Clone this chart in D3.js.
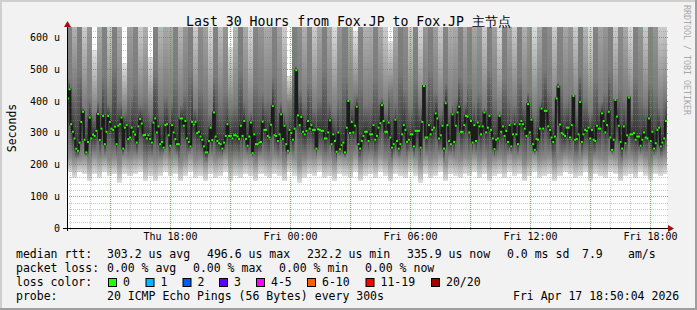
<!DOCTYPE html>
<html>
<head>
<meta charset="utf-8">
<script src="https://cdn.jsdelivr.net/npm/d3@7"></script>
<style>
body { margin: 0; background: #fff; }
text { font-family: "DejaVu Sans Mono", monospace; fill: #000; }
</style>
</head>
<body>
<div id="chart"></div>
<script>
// median rtt per 300s step, in microseconds
var median = [
  408,437,327,303,282,250,243,269,334,366,278,238,271,348,282,294,290,306,359,277,
  313,353,264,303,353,334,313,309,319,264,322,327,348,250,316,324,280,285,316,303,
  294,269,320,343,329,292,293,282,292,280,269,332,345,301,320,264,271,253,324,
  327,292,259,324,301,280,264,264,345,345,322,337,282,271,257,334,326,334,299,303,
  288,278,257,238,238,274,316,277,364,288,274,267,264,250,269,290,327,290,290,282,
  292,292,288,280,322,290,337,280,259,288,332,236,295,264,264,269,271,335,309,
  309,290,285,325,384,292,290,274,295,358,280,322,264,243,309,299,278,313,497,355,
  324,350,303,295,306,337,313,324,309,309,250,311,309,306,306,282,282,301,339,264,
  295,274,240,301,248,261,269,238,316,400,299,334,301,322,382,264,250,274,290,303,
  303,274,295,295,324,278,290,316,330,387,337,303,303,332,285,253,264,341,274,250,
  264,295,324,309,271,278,295,295,257,306,306,306,253,334,447,285,285,324,295,309,
  316,361,345,282,292,322,250,393,324,274,264,358,271,322,364,382,303,303,324,353,
  351,301,337,269,324,274,332,320,295,320,364,301,316,353,309,282,248,278,282,353,
  303,320,290,306,271,324,257,295,327,295,264,327,337,327,313,290,390,301,341,264,
  246,280,278,313,376,313,369,369,320,309,285,271,288,408,445,326,299,295,290,316,
  316,285,324,416,278,280,295,397,271,295,309,306,316,282,309,278,274,322,313,313,
  361,337,301,324,366,285,246,278,403,351,322,271,250,320,267,292,411,295,295,299,
  278,288,288,259,278,301,285,282,345,274,303,250,267,309,316,257,269,282,337
];

// smoke envelope per 5px column (120 columns), microseconds
var smokeLo = [
  175,159,175,170,149,170,159,175,164,170,143,170,164,170,175,149,164,149,164,175,
  164,170,149,164,175,159,164,149,170,159,164,175,149,164,159,170,164,149,170,164,
  159,170,164,149,175,164,143,159,170,164,175,159,164,149,170,164,159,175,149,164,
  170,159,175,164,149,170,164,159,175,164,143,170,159,164,175,149,170,164,159,170,
  164,175,159,170,149,164,170,159,175,164,170,149,164,175,159,164,170,149,164,175,
  170,159,164,175,149,170,164,159,175,170,149,164,170,159,175,164,149,170,164,170
];
var smokeQ1 = [
  225,215,220,225,210,230,220,225,215,220,205,225,220,225,230,210,220,215,220,230,
  220,225,205,215,230,215,220,205,225,215,220,230,210,220,215,225,220,205,225,220,
  215,225,220,205,230,220,200,215,225,220,230,215,220,205,225,220,215,230,205,220,
  225,215,230,220,205,225,220,215,230,220,200,225,215,220,230,205,225,220,215,225,
  220,230,215,225,205,220,225,215,230,220,225,205,220,230,215,220,225,205,220,230,
  225,215,220,230,205,225,220,215,230,225,205,220,225,215,230,220,205,225,220,225
];
var smokeQ3 = [
  470,440,500,380,410,360,400,480,390,510,400,370,420,460,390,410,370,500,390,420,
  400,470,390,430,500,380,440,410,360,480,400,430,380,390,500,400,370,460,430,400,
  410,480,400,370,390,510,440,400,460,380,410,500,400,370,410,480,400,420,460,390,
  400,470,410,380,430,400,500,440,380,470,390,420,500,430,380,460,390,410,480,400,
  460,400,430,380,500,410,370,470,410,390,480,400,430,370,410,500,440,380,460,400,
  420,380,490,410,370,470,400,430,500,380,440,410,370,480,420,390,460,430,380,410
];
var smokeHi = [
  2500,800,3000,700,1200,560,900,2500,700,3000,900,520,1000,2000,700,850,540,2500,800,900,
  900,2500,800,1200,3000,700,1500,1000,650,2500,750,1200,570,800,3000,900,650,2000,1200,900,
  900,2500,1000,700,480,3000,1500,850,2000,700,950,3000,900,650,1200,2500,900,620,2000,850,
  850,2500,900,700,590,900,3000,1500,700,2500,650,1200,3000,1000,700,2000,850,900,2500,950,
  2000,950,1200,700,3000,1000,650,2500,950,700,2500,850,1200,650,900,3000,1500,700,2000,950,
  1200,700,2500,800,650,2500,1000,1200,3000,700,1500,900,650,2500,1200,700,2000,1200,700,700
];

var yTicks = [0, 100, 200, 300, 400, 500, 600];
var lossLabels = ["0", "1", "2", "3", "4-5", "6-10", "11-19", "20/20"];
var lossColors = ["#26ff00", "#00b8ff", "#0059ff", "#5e00ff", "#ff00ff", "#ff5e00", "#ff0000", "#a10000"];
var rttLegend = ["median rtt:", "303.2 us avg", "496.6 us max", "232.2 us min", "335.9 us now", "0.0 ms sd", "7.9", "am/s"];
var lossLegend = ["packet loss:", "0.00 % avg", "0.00 % max", "0.00 % min", "0.00 % now"];
var probeLegend = ["probe:", "20 ICMP Echo Pings (56 Bytes) every 300s", "Fri Apr 17 18:50:04 2026"];
var title = "Last 30 Hours from Fox.JP to Fox.JP 主节点";

// layout
var width = 697, height = 310;
var plot = {left: 67, right: 667, top: 27, bottom: 228};
var rttX = [16, 107, 207, 307, 407, 507, 582, 628];
var lossX = [16, 107, 193, 279, 365];
var boxX = [108, 145.5, 182.5, 219, 256, 307, 365.5, 431];
var probeX = [16, 107, 513];

var svg = d3.select("#chart")
  .append("svg")
  .attr("width", width)
  .attr("height", height);

// background with rrdtool style shading
svg.append("rect").attr("width", width).attr("height", height).attr("fill", "#f2f2f2");
svg.append("rect").attr("width", width).attr("height", 2).attr("fill", "#cfcfcf");
svg.append("rect").attr("width", 2).attr("height", height).attr("fill", "#cfcfcf");
svg.append("rect").attr("x", 0).attr("y", height - 2).attr("width", width).attr("height", 2).attr("fill", "#9e9e9e");
svg.append("rect").attr("x", width - 2).attr("y", 0).attr("width", 2).attr("height", height).attr("fill", "#9e9e9e");

svg.append("rect")
  .attr("x", plot.left).attr("y", plot.top)
  .attr("width", plot.right - plot.left).attr("height", plot.bottom - plot.top)
  .attr("fill", "#fff");

var tStart = new Date(2026, 3, 16, 12, 51);
var tEnd = new Date(2026, 3, 17, 18, 51);
var tLast = new Date(2026, 3, 17, 18, 50);

var x = d3.scaleTime().domain([tStart, tEnd]).range([plot.left, plot.right]);
var y = d3.scaleLinear().domain([0, 633]).range([plot.bottom, plot.top]);

var n = median.length;
var xi = d3.scaleLinear().domain([0, n]).range([x(tStart), x(tLast)]);

// gradients for the smoke bands
var defs = svg.append("defs");
function grad(id, top, bottom) {
  var g = defs.append("linearGradient").attr("id", id)
    .attr("x1", 0).attr("y1", 0).attr("x2", 0).attr("y2", 1);
  g.append("stop").attr("offset", 0).attr("stop-color", top);
  g.append("stop").attr("offset", 1).attr("stop-color", bottom);
}
grad("gLo", "#8a8a8a", "#dedede");
grad("gQ1", "#333333", "#8a8a8a");
grad("gQ3", "#7a7a7a", "#333333");
grad("gHi", "#e2e2e2", "#7a7a7a");

defs.append("clipPath").attr("id", "clip")
  .append("rect")
  .attr("x", plot.left).attr("y", plot.top)
  .attr("width", plot.right - plot.left).attr("height", plot.bottom - plot.top);

var steps = median.map(function(m, i) {
  var c = Math.min(smokeLo.length - 1, Math.floor(i * smokeLo.length / n));
  var q3 = Math.max(smokeQ3[c], m);
  return {i: i, med: m, lo: smokeLo[c], q1: Math.min(smokeQ1[c], m), q3: q3, hi: Math.max(smokeHi[c], q3)};
});

var smoke = svg.append("g").attr("clip-path", "url(#clip)").attr("shape-rendering", "crispEdges");
var bands = [["lo", "q1", "gLo"], ["q1", "med", "gQ1"], ["med", "q3", "gQ3"], ["q3", "hi", "gHi"]];
bands.forEach(function(b) {
  smoke.selectAll("rect." + b[2]).data(steps)
    .enter().append("rect")
      .attr("class", b[2])
      .attr("x", function(d) { return xi(d.i); })
      .attr("width", function(d) { return xi(d.i + 1) - xi(d.i); })
      .attr("y", function(d) { return y(d[b[1]]); })
      .attr("height", function(d) { return Math.max(0, y(d[b[0]]) - y(d[b[1]])); })
      .attr("fill", "url(#" + b[2] + ")");
});

// grid
var grid = svg.append("g");
var minorH = d3.range(0, 634, 20);
grid.selectAll("line.mh").data(minorH).enter().append("line")
  .attr("x1", plot.left).attr("x2", plot.right + 2)
  .attr("y1", function(d) { return Math.round(y(d)) + 0.5; })
  .attr("y2", function(d) { return Math.round(y(d)) + 0.5; })
  .attr("stroke", "rgba(140,140,140,0.45)").attr("stroke-dasharray", "1,1");
grid.selectAll("line.mv").data(x.ticks(d3.timeHour.every(1))).enter().append("line")
  .attr("x1", function(d) { return Math.round(x(d)) + 0.5; })
  .attr("x2", function(d) { return Math.round(x(d)) + 0.5; })
  .attr("y1", plot.top).attr("y2", plot.bottom + 3)
  .attr("stroke", "rgba(140,140,140,0.45)").attr("stroke-dasharray", "1,1");
grid.selectAll("line.Mh").data(yTicks.slice(1)).enter().append("line")
  .attr("x1", plot.left).attr("x2", plot.right + 2)
  .attr("y1", function(d) { return Math.round(y(d)) + 0.5; })
  .attr("y2", function(d) { return Math.round(y(d)) + 0.5; })
  .attr("stroke", "rgba(225,70,70,0.55)").attr("stroke-dasharray", "1,1");
grid.selectAll("line.Mv").data(x.ticks(d3.timeHour.every(3))).enter().append("line")
  .attr("x1", function(d) { return Math.round(x(d)) + 0.5; })
  .attr("x2", function(d) { return Math.round(x(d)) + 0.5; })
  .attr("y1", plot.top).attr("y2", plot.bottom + 3)
  .attr("stroke", "rgba(225,70,70,0.55)").attr("stroke-dasharray", "1,1");

// median line + loss coloured dots
var line = d3.line()
  .x(function(d) { return xi(d.i + 0.5); })
  .y(function(d) { return y(d.med); })
  .curve(d3.curveStep);
svg.append("path").datum(steps)
  .attr("d", line)
  .attr("fill", "none")
  .attr("stroke", "#1c1c1c")
  .attr("stroke-width", 2);

svg.append("g").selectAll("rect").data(steps)
  .enter().append("rect")
    .attr("x", function(d) { return xi(d.i + 0.5) - 1; })
    .attr("y", function(d) { return y(d.med) - 1; })
    .attr("width", 2).attr("height", 2)
    .attr("fill", lossColors[0]);

// axes
svg.append("line")
  .attr("x1", plot.left - 4).attr("x2", plot.right + 2)
  .attr("y1", plot.bottom + 0.5).attr("y2", plot.bottom + 0.5)
  .attr("stroke", "#000");
svg.append("line")
  .attr("x1", plot.left + 0.5).attr("x2", plot.left + 0.5)
  .attr("y1", plot.top - 1).attr("y2", plot.bottom + 3)
  .attr("stroke", "#000");
svg.append("path")
  .attr("d", "M" + (plot.right + 1) + "," + (plot.bottom - 3) + "L" + (plot.right + 7) + "," + (plot.bottom + 0.5) + "L" + (plot.right + 1) + "," + (plot.bottom + 4) + "Z")
  .attr("fill", "#a01010");
svg.append("path")
  .attr("d", "M" + (plot.left - 3) + "," + (plot.top) + "L" + (plot.left + 0.5) + "," + (plot.top - 6) + "L" + (plot.left + 4) + "," + (plot.top) + "Z")
  .attr("fill", "#a01010");

var xAxis = d3.axisBottom(x)
  .ticks(d3.timeHour.every(6))
  .tickFormat(d3.timeFormat("%a %H:%M"))
  .tickSize(0).tickPadding(5);
var gx = svg.append("g").attr("transform", "translate(0," + plot.bottom + ")").call(xAxis);
gx.select(".domain").remove();
gx.selectAll("text").style("font-family", "DejaVu Sans Mono").style("font-size", "10px").attr("fill", "#000");

var yAxis = d3.axisLeft(y)
  .tickValues(yTicks)
  .tickFormat(function(d) { return d === 0 ? "0" : d + " u"; })
  .tickSize(0).tickPadding(7);
var gy = svg.append("g").attr("transform", "translate(" + plot.left + ",0)").call(yAxis);
gy.select(".domain").remove();
gy.selectAll("text").style("font-family", "DejaVu Sans Mono").style("font-size", "10px").attr("fill", "#000");

// title and side labels
svg.append("text")
  .attr("x", 348.5).attr("y", 26)
  .attr("text-anchor", "middle")
  .style("font-size", "13.2px")
  .text(title);

svg.append("text")
  .attr("transform", "translate(15.5,128) rotate(-90)")
  .attr("text-anchor", "middle")
  .style("font-size", "11.5px")
  .text("Seconds");

svg.append("text")
  .attr("transform", "translate(684,5) rotate(90)")
  .style("font-size", "8.3px")
  .style("fill", "#a8a8a8")
  .text("RRDTOOL / TOBI OETIKER");

// legend
var legend = svg.append("g").style("font-size", "11.5px").attr("xml:space", "preserve");
function row(texts, xs, yy) {
  legend.selectAll(null).data(texts).enter().append("text")
    .attr("x", function(d, i) { return xs[i]; })
    .attr("y", yy)
    .text(function(d) { return d; });
}
row(rttLegend, rttX, 258);
row(lossLegend, lossX, 272);
row(["loss color:"], [16], 286);
row(probeLegend, probeX, 300);

legend.selectAll("rect.box").data(lossColors).enter().append("rect")
  .attr("class", "box")
  .attr("x", function(d, i) { return boxX[i] + 0.5; })
  .attr("y", 278.5)
  .attr("width", 8).attr("height", 8)
  .attr("fill", function(d) { return d; })
  .attr("stroke", "#000");
legend.selectAll("text.lbl").data(lossLabels).enter().append("text")
  .attr("class", "lbl")
  .attr("x", function(d, i) { return boxX[i] + 15; })
  .attr("y", 286)
  .text(function(d) { return d; });
</script>
</body>
</html>
